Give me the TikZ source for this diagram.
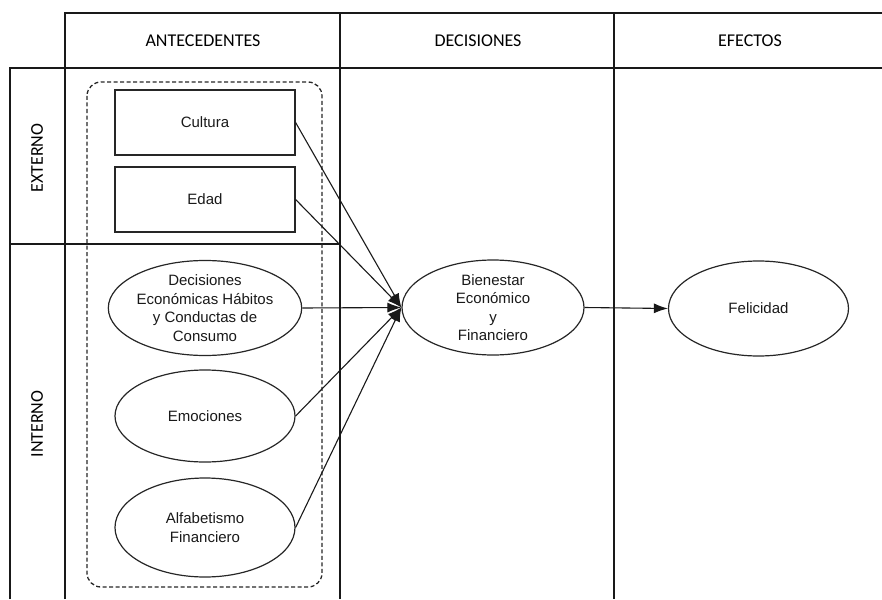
\documentclass[tikz,border=0pt]{standalone}
\usepackage{fontspec}
\setmainfont{Liberation Sans}
\newfontfamily\headfont{Carlito}
\usetikzlibrary{shapes.geometric,arrows.meta}
\begin{document}
\begin{tikzpicture}[x=1pt,y=-1pt,
    grid/.style={line width=1.6pt, black!90},
    head/.style={font=\headfont\fontsize{18}{20}\selectfont, text=black},
    cajon/.style={draw=black!85, line width=1.2pt, minimum width=180pt, minimum height=65pt, text=black!90, font=\fontsize{15}{18.5}\selectfont},
    elipse/.style={draw=black!85, ellipse, line width=1.2pt, minimum width=180pt, minimum height=95pt, inner sep=0pt, align=center, text=black!90, font=\fontsize{15}{18.5}\selectfont},
    flecha/.style={-{Latex[length=14pt,width=10pt]}, line width=1.1pt, black!90}]
    \useasboundingbox (0,0) rectangle (882,599);
    % tabla
    \draw[grid] (65,599) -- (65,13) -- (882,13);
    \draw[grid] (10,599) -- (10,68) -- (882,68);
    \draw[grid] (340,13) -- (340,599);
    \draw[grid] (614,13) -- (614,599);
    \draw[grid] (10,244) -- (340,244);
    \node[head] (antecedentes) at (203,41) {ANTECEDENTES};
    \node[head] (decisiones) at (478,41) {DECISIONES};
    \node[head] (efectos) at (750,41) {EFECTOS};
    \node[head, rotate=90] (externo) at (37,158) {EXTERNO};
    \node[head, rotate=90] (interno) at (37,424) {INTERNO};
    % grupo de antecedentes
    \draw[black!85, line width=1.3pt, dash pattern=on 4pt off 2.5pt, rounded corners=14pt] (87,82) rectangle (322,587);
    \node[cajon] (cultura) at (205,122.5) {Cultura};
    \node[cajon] (edad) at (205,199.5) {Edad};
    \node[elipse] (habitos) at (205,308) {Decisiones\\Económicas Hábitos\\y Conductas de\\Consumo};
    \node[elipse, minimum height=92pt] (emociones) at (205,416) {Emociones};
    \node[elipse, minimum height=99pt] (alfabetismo) at (205,527.5) {Alfabetismo\\Financiero};
    \node[elipse, minimum width=182pt] (bienestar) at (493,307.5) {Bienestar\\Económico\\y\\Financiero};
    \node[elipse] (felicidad) at (758.5,308.5) {Felicidad};
    % flechas
    \draw[flecha] (cultura.east) -- (bienestar.west);
    \draw[flecha] (edad.east) -- (bienestar.west);
    \draw[flecha] (habitos.east) -- (bienestar.west);
    \draw[flecha] (emociones.east) -- (bienestar.west);
    \draw[flecha] (alfabetismo.east) -- (bienestar.west);
    \draw[flecha] (bienestar.east) -- (felicidad.west);
\end{tikzpicture}
\end{document}
